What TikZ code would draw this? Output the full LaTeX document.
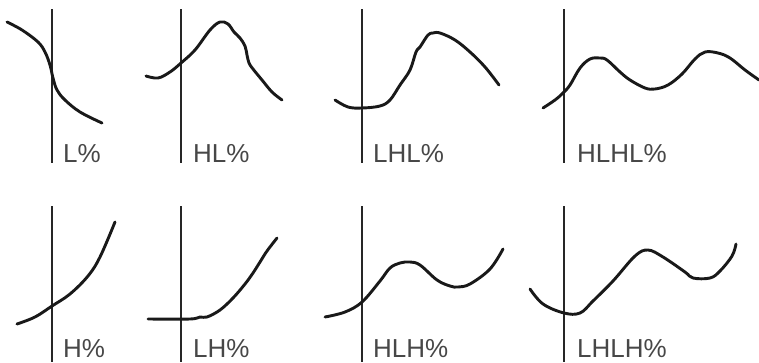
\documentclass[tikz,border=0pt]{standalone}
\usepackage{fontspec}
\setmainfont{Liberation Sans}
\begin{document}
\begin{tikzpicture}[x=1pt,y=-1pt,
  axis/.style={line width=1.4pt,draw=black!85},
  contour/.style={line width=2.9pt,draw=black!90,line cap=round,line join=round},
  lbl/.style={anchor=base west,inner sep=0pt,font=\fontsize{26}{26}\selectfont,text=black!72}]
\useasboundingbox (0,0) rectangle (759,362);
% top row
\draw[axis] (52,9) -- (52,163);
\draw[axis] (181,9) -- (181,163);
\draw[axis] (362,9) -- (362,163);
\draw[axis] (564,9) -- (564,163);
% bottom row
\draw[axis] (52,206) -- (52,362);
\draw[axis] (181,206) -- (181,362);
\draw[axis] (362,206) -- (362,362);
\draw[axis] (564,206) -- (564,362);
% labels
\node[lbl] (l1) at (63,162) {L\%};
\node[lbl] (l2) at (193,162) {HL\%};
\node[lbl] (l3) at (373,162) {LHL\%};
\node[lbl] (l4) at (577,162) {HLHL\%};
\node[lbl] (l5) at (63,357) {H\%};
\node[lbl] (l6) at (193,357) {LH\%};
\node[lbl] (l7) at (373,357) {HLH\%};
\node[lbl] (l8) at (577,357) {LHLH\%};
% contours
\draw[contour] plot[smooth,tension=0.6] coordinates {(7,22) (22,30) (38,42) (45,52) (50,65) (53,78) (57,90) (65,100) (80,112) (102,123)};
\draw[contour] plot[smooth,tension=0.6] coordinates {(146,76) (158,78) (170,72) (181,63) (195,50) (210,30) (220,22) (228,24) (234,32) (240,38) (245,46) (247,55) (249,63) (253,69) (262,80) (272,92) (282,100)};
\draw[contour] plot[smooth,tension=0.6] coordinates {(335,100) (348,107) (362,108) (380,106) (390,100) (400,85) (410,70) (416,52) (420,47) (428,35) (433,33) (440,33) (455,40) (470,52) (485,67) (499,85)};
\draw[contour] plot[smooth,tension=0.6] coordinates {(543,108) (555,100) (563,93) (570,85) (580,68) (590,59) (600,58) (607,60) (620,72) (630,80) (645,88) (655,89) (668,85) (682,74) (695,59) (705,52) (718,53) (730,58) (745,70) (759,80)};
\draw[contour] plot[smooth,tension=0.6] coordinates {(17,324) (35,317) (52,306) (70,294) (88,276) (100,257) (115,222)};
\draw[contour] plot[smooth,tension=0.6] coordinates {(148,319) (190,319) (200,317) (207,317) (220,310) (233,298) (245,284) (253,273) (260,262) (267,251) (277,238)};
\draw[contour] plot[smooth,tension=0.6] coordinates {(325,317) (345,312) (362,302) (380,281) (390,268) (400,263) (410,262) (420,265) (437,280) (450,286) (458,287) (470,284) (490,269) (503,249)};
\draw[contour] plot[smooth,tension=0.6] coordinates {(530,289) (543,304) (564,313) (580,313) (593,301) (613,281) (635,256) (648,250) (663,257) (685,272) (693,278) (710,278) (720,271) (732,256) (736,244)};
\end{tikzpicture}
\end{document}
